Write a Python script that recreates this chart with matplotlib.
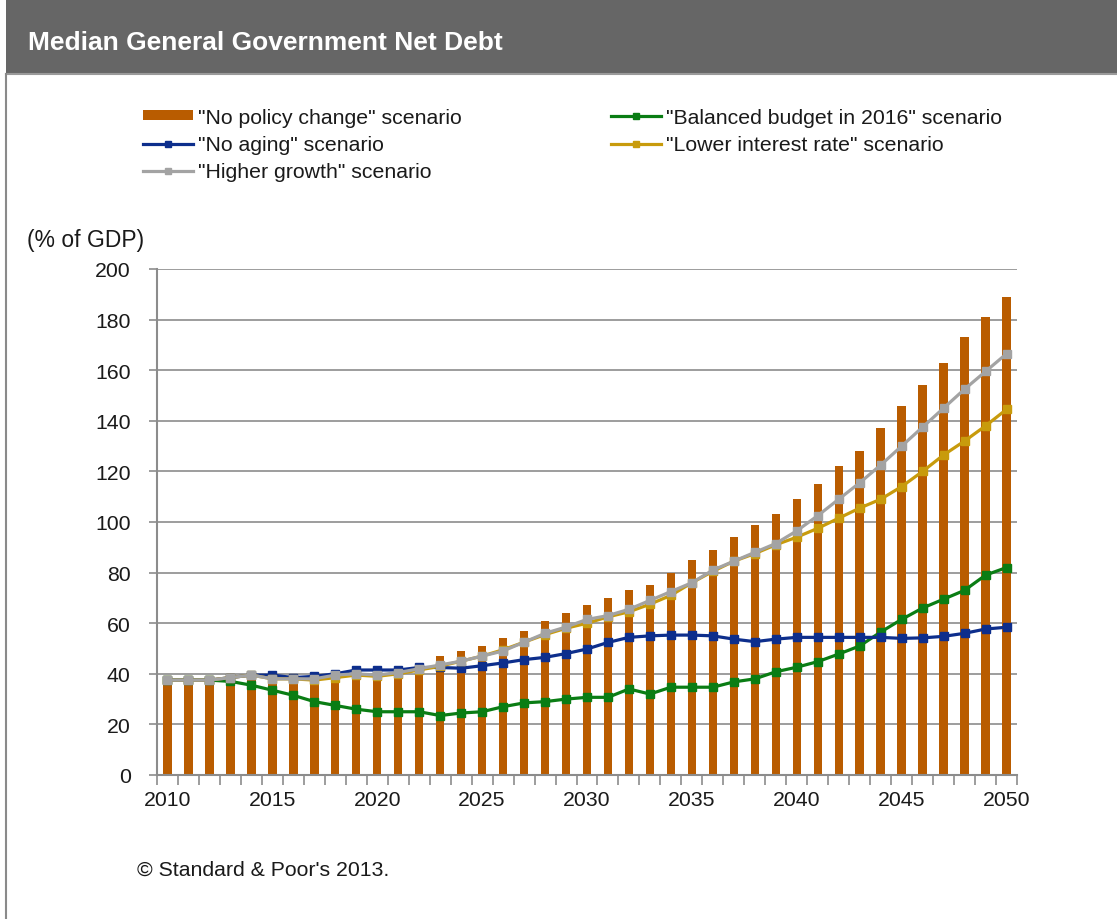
import matplotlib
matplotlib.use("Agg")
import matplotlib.pyplot as plt
from matplotlib.patches import Rectangle
from matplotlib.lines import Line2D
import numpy as np

plt.rcParams['font.family'] = ['Liberation Sans', 'DejaVu Sans']

years = list(range(2010, 2051))
no_policy = [37, 37, 37, 38, 39, 39, 38, 39, 40, 41, 41, 41, 44, 47, 49, 51, 54, 57, 61, 64,
             67, 70, 73, 75, 80, 85, 89, 94, 99, 103, 109, 115, 122, 128, 137, 146, 154, 163,
             173, 181, 189]
balanced = [37.5, 37.5, 37.5, 37, 35.5, 33.5, 31.5, 29, 27.5, 26, 25, 25, 25, 23.5, 24.5, 25,
            27, 28.5, 29, 30, 30.7, 30.7, 34, 32, 34.7, 34.7, 34.7, 36.8, 38, 40.8, 42.6, 44.8,
            47.8, 51, 56.5, 61.5, 66, 69.5, 73, 79, 82]
no_aging = [37.5, 37.5, 37.5, 38.5, 39.5, 39.5, 38.5, 39, 40, 41.5, 41.5, 41.5, 42.5, 42.5,
            42.2, 43.2, 44.3, 45.6, 46.5, 48, 49.8, 52.4, 54.4, 55, 55.3, 55.3, 55, 53.7, 52.7,
            53.7, 54.4, 54.4, 54.4, 54.4, 54.4, 54, 54.2, 54.8, 56, 57.7, 58.4]
lower_rate = [37.5, 37.5, 37.5, 38.5, 39.5, 38, 38, 37.5, 38.5, 39.5, 39, 40, 41.5, 43, 45,
              47, 49.5, 52.5, 55.5, 58, 60, 62.5, 64.5, 67.5, 71, 76, 80.5, 84.5, 87.5, 91,
              94, 97.5, 101.5, 105.5, 109, 114, 120, 126.5, 132, 138, 144.5]
higher_growth = [37.5, 37.5, 37.5, 38.5, 39.5, 38, 38, 38, 39.5, 40, 39.5, 40.5, 42, 43.5, 45,
                 47, 49, 52.5, 56, 58.5, 61.5, 63, 65.5, 69, 72.5, 76, 81, 84.5, 88, 91.5, 96.5,
                 102.5, 109, 115.5, 122.5, 130, 137.5, 145, 152.5, 159.5, 166.5]

labels = ['"No policy change" scenario', '"No aging" scenario', '"Higher growth" scenario',
          '"Balanced budget in 2016" scenario', '"Lower interest rate" scenario']
yticks = list(range(0, 201, 20))
xtick_years = list(range(2010, 2051, 5))

c_bar = '#B95C00'
c_green = '#0A7D14'
c_blue = '#0D2E8C'
c_gold = '#C89B0C'
c_gray = '#A3A3A3'
axis_gray = '#8C8C8C'
txt = '#1a1a1a'
fs = 15.3

W, H = 1117, 920
fig = plt.figure(figsize=(W / 100, H / 100), dpi=100)

# title bar
fig.patches.append(Rectangle((6 / W, 1 - 75 / H), 1 - 6 / W, 75 / H, transform=fig.transFigure,
                             facecolor='#666666', edgecolor='none', zorder=0))
fig.lines.append(Line2D([6 / W, 1], [1 - 75 / H, 1 - 75 / H], transform=fig.transFigure,
                        color='#9A9A9A', lw=1.5))
fig.lines.append(Line2D([6 / W, 6 / W], [0, 1 - 75 / H], transform=fig.transFigure,
                        color='#8A8A8A', lw=1.5))
fig.text(28 / W, 1 - 43 / H, 'Median General Government Net Debt', color='white',
         fontsize=19, fontweight='bold', va='center', ha='left')

ax = fig.add_axes([157 / W, 1 - 776 / H, 860 / W, 506 / H])
x = np.arange(len(years))
ax.bar(x, no_policy, width=0.4, color=c_bar, zorder=2, label=labels[0])
mk = dict(marker='s', markersize=6, lw=2.3)
l_green, = ax.plot(x, balanced, color=c_green, zorder=3, **mk)
l_blue, = ax.plot(x, no_aging, color=c_blue, zorder=4, **mk)
l_gold, = ax.plot(x, lower_rate, color=c_gold, zorder=5, **mk)
l_gray, = ax.plot(x, higher_growth, color=c_gray, zorder=6, **mk)

ax.set_xlim(-0.5, len(years) - 0.5)
ax.set_ylim(0, 200)
ax.set_yticks(yticks)
ax.set_yticklabels([str(v) for v in yticks])
ax.yaxis.grid(True, color=axis_gray, lw=1.2, zorder=0)
ax.set_axisbelow(True)
ax.set_xticks([years.index(y) for y in xtick_years])
ax.set_xticklabels([str(y) for y in xtick_years])
ax.set_xticks(np.arange(-0.5, len(years), 1.0), minor=True)
ax.tick_params(axis='x', which='major', length=0, pad=11, labelsize=fs, labelcolor=txt)
ax.tick_params(axis='x', which='minor', length=7, width=1.2, color=axis_gray, direction='out')
ax.tick_params(axis='y', which='major', length=6, width=1.2, color=axis_gray, pad=13,
               labelsize=fs, labelcolor=txt)
for s in ['top', 'right']:
    ax.spines[s].set_visible(False)
for s in ['left', 'bottom']:
    ax.spines[s].set_color(axis_gray)
    ax.spines[s].set_linewidth(1.5)

fig.text(27 / W, 1 - 240 / H, '(% of GDP)', fontsize=16.5, va='center', ha='left', color=txt)
fig.text(137 / W, 1 - 870 / H, "\u00a9 Standard & Poor's 2013.", fontsize=fs, va='center',
         ha='left', color=txt)

bar_handle = Rectangle((0, 0), 1, 1, facecolor=c_bar, edgecolor='none')
handles = [bar_handle, l_blue, l_gray, l_green, l_gold]
leg = fig.legend(handles, labels, ncol=2, loc='upper left',
                 bbox_to_anchor=(143 / W, 1 - 108.5 / H), frameon=False, fontsize=fs,
                 handlelength=2.35, handleheight=0.4, handletextpad=0.25, columnspacing=7.0,
                 labelspacing=0.4, borderaxespad=0, borderpad=0, markerscale=0.8)
for t in leg.get_texts():
    t.set_color(txt)

fig.savefig('out.png', dpi=100, facecolor='white')
